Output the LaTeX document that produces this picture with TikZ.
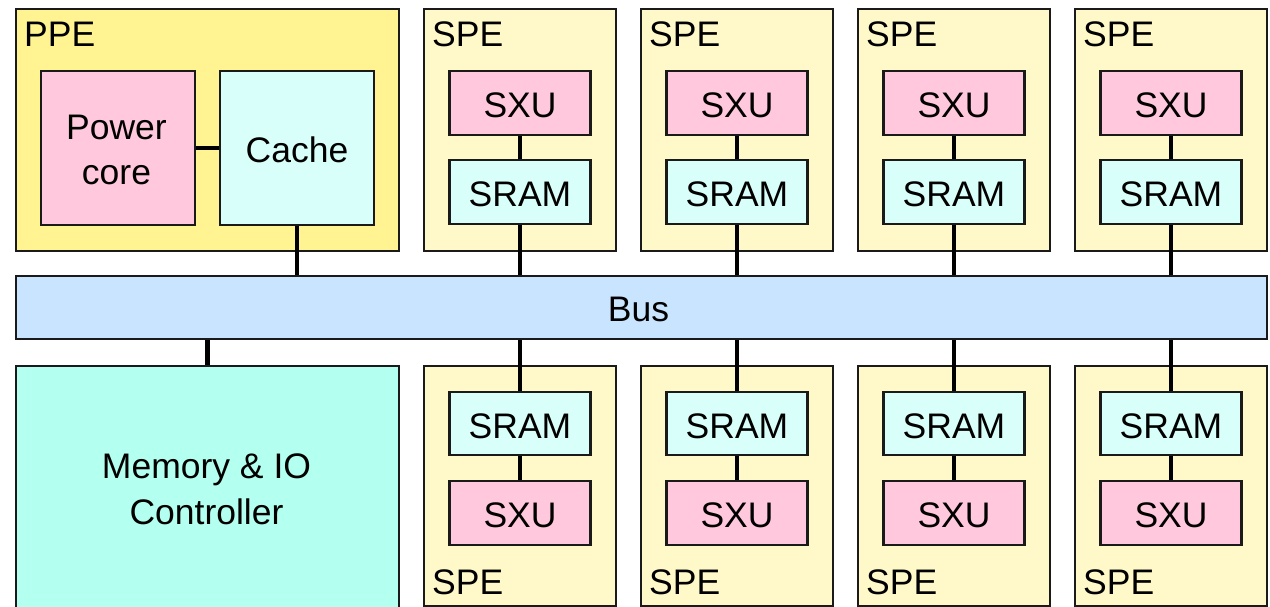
\documentclass[tikz,border=0pt]{standalone}
\usepackage{fontspec}
\setmainfont{Liberation Sans}
\definecolor{ppefill}{HTML}{FFF491}
\definecolor{spefill}{HTML}{FFF9C9}
\definecolor{corefill}{HTML}{FFC8DC}
\definecolor{memfill}{HTML}{D9FFFA}
\definecolor{busfill}{HTML}{C8E4FF}
\definecolor{iofill}{HTML}{B3FFF0}
\definecolor{edge}{HTML}{1A1A1A}
\tikzset{
  box/.style={draw=edge, line width=2.2pt, rectangle, inner sep=0pt},
  word/.style={box, font=\fontsize{35.5}{45}\selectfont, text height=29pt, text depth=0pt},
  group/.style={box, fill=spefill},
  label/.style={anchor=west, inner sep=0pt, font=\fontsize{35.5}{45}\selectfont},
  link/.style={draw=black, line width=4.5pt},
}
\begin{document}
\begin{tikzpicture}[x=1pt,y=-1pt]
\useasboundingbox (0,0) rectangle (1270,607);
\clip (0,0) rectangle (1270,607);

% PPE block
\node[box, fill=ppefill, minimum width=383pt, minimum height=242pt] (ppe) at (207.5,130) {};
\node[label] (ppelbl) at (24,34) {PPE};
\node[box, fill=corefill, minimum width=154pt, minimum height=154pt] (core) at (118,148) {};
\node[inner sep=0pt, align=center, font=\fontsize{35.5}{45}\selectfont] (corelbl) at (116.5,150) {Power\\core};
\node[word, fill=memfill, minimum width=154pt, minimum height=154pt] (cache) at (297,148) {Cache};

% Bus
\node[box, fill=busfill, minimum width=1251pt, minimum height=63pt] (bus) at (641.5,307.5) {};
\node[inner sep=0pt, font=\fontsize{35.5}{45}\selectfont] (buslbl) at (638.5,309.5) {Bus};

% Memory & IO controller
\node[box, fill=iofill, minimum width=383pt, minimum height=260pt] (mic) at (207.5,496) {};
\node[inner sep=0pt, align=center, font=\fontsize{35.5}{46}\selectfont] (miclbl) at (206.5,489) {Memory \& IO\\Controller};

\draw[link] (core.east) -- (cache.west);
\draw[link] (cache.south) -- (cache.south |- bus.north);
\draw[link] (bus.south -| mic.north) -- (mic.north);

% SPEs above and below the bus
\foreach \i in {0,1,2,3}{
  \pgfmathsetmacro{\xl}{424+217*\i}
  \pgfmathsetmacro{\xc}{\xl+96}
  % upper SPE
  \node[group, minimum width=192pt, minimum height=242pt] (tspe\i) at (\xc,130) {};
  \node[label] (tlbl\i) at (\xl+8,34) {SPE};
  \node[word, fill=corefill, minimum width=141pt, minimum height=64pt] (tsxu\i) at (\xc,103) {SXU};
  \node[word, fill=memfill, minimum width=141pt, minimum height=64pt] (tsram\i) at (\xc,192) {SRAM};
  \draw[link] (tsxu\i.south) -- (tsram\i.north);
  \draw[link] (tsram\i.south) -- (tsram\i.south |- bus.north);
  % lower SPE
  \node[group, minimum width=192pt, minimum height=240pt] (bspe\i) at (\xc,486) {};
  \node[label] (blbl\i) at (\xl+8,582) {SPE};
  \node[word, fill=memfill, minimum width=141pt, minimum height=63pt] (bsram\i) at (\xc,423.5) {SRAM};
  \node[word, fill=corefill, minimum width=141pt, minimum height=64pt] (bsxu\i) at (\xc,513) {SXU};
  \draw[link] (bsram\i.north |- bus.south) -- (bsram\i.north);
  \draw[link] (bsram\i.south) -- (bsxu\i.north);
}
\end{tikzpicture}
\end{document}
